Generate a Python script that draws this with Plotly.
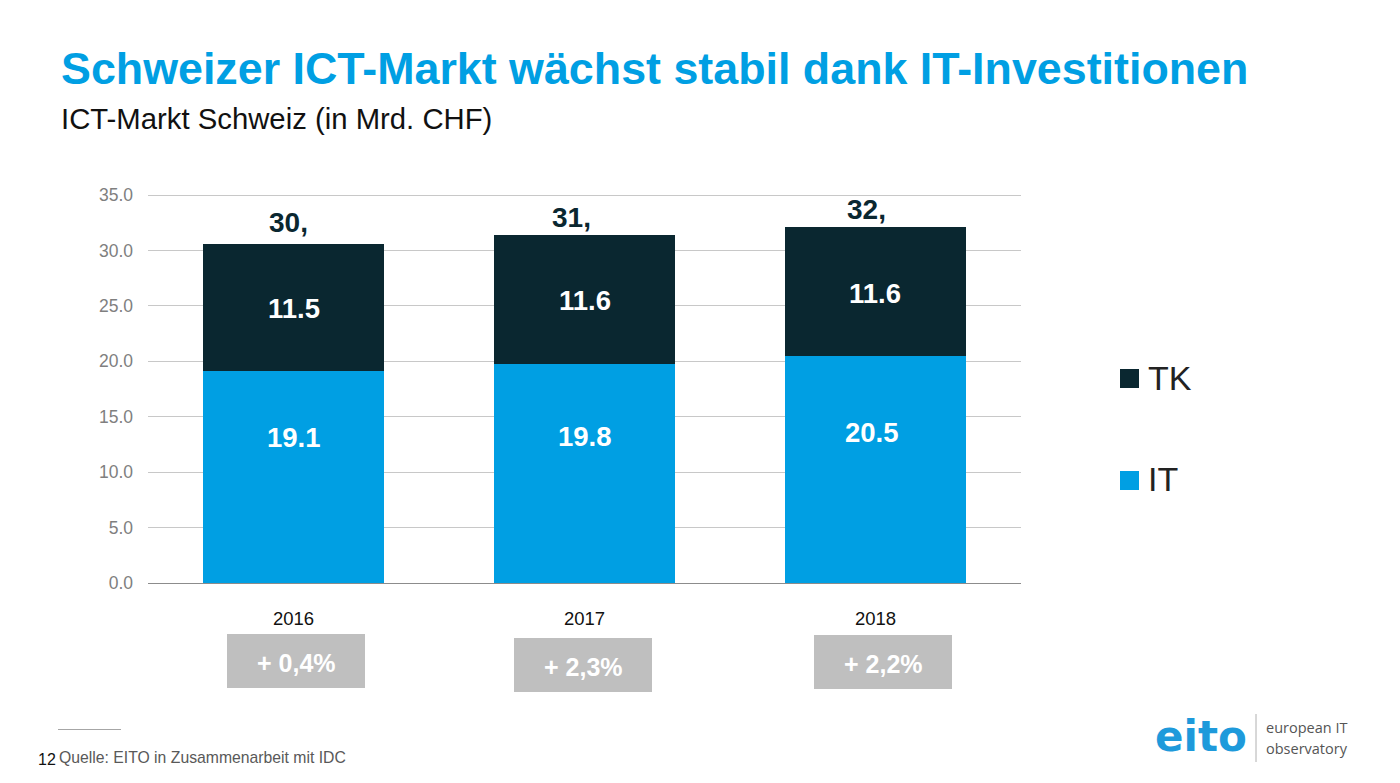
import plotly.graph_objects as go

PAGE_W, PAGE_H = 1400, 783
PAGE_MARGIN = 8
L, R, T, B = 148, 1021, 193, 583

years = ["2016", "2017", "2018"]
it_values = [19.1, 19.8, 20.5]
tk_values = [11.5, 11.6, 11.6]
it_labels = ["19.1", "19.8", "20.5"]
tk_labels = ["11.5", "11.6", "11.6"]
total_labels = ["30,", "31,", "32,"]
growth_labels = ["+ 0,4%", "+ 2,3%", "+ 2,2%"]
y_ticks = [0, 5, 10, 15, 20, 25, 30, 35]
y_tick_labels = ["0.0", "5.0", "10.0", "15.0", "20.0", "25.0", "30.0", "35.0"]

BLUE = "#009FE3"
DARK = "#0A2730"
FONT = "Liberation Sans"

def px(x):
    return (x - L) / (R - L)
def py(y):
    return (B - y) / (B - T)

fig = go.Figure()
fig.add_bar(x=years, y=it_values, name="IT", marker=dict(color=BLUE, line_width=0))
fig.add_bar(x=years, y=tk_values, name="TK", marker=dict(color=DARK, line_width=0))

ann = []
shapes = []

def text(s, x, y, size, color, bold=False, anchor="center", family=FONT):
    ann.append(dict(text=f"<b>{s}</b>" if bold else s, x=px(x), y=py(y), xref="paper", yref="paper",
                    xanchor=anchor, yanchor="middle", showarrow=False, borderpad=0, borderwidth=0,
                    font=dict(family=family, size=size, color=color)))

def rect(x0, y0, x1, y1, color):
    shapes.append(dict(type="rect", xref="paper", yref="paper", x0=px(x0), x1=px(x1), y0=py(y0), y1=py(y1),
                       fillcolor=color, line_width=0, layer="above"))

def line(x0, y0, x1, y1, color, w=1):
    shapes.append(dict(type="line", xref="paper", yref="paper", x0=px(x0), x1=px(x1), y0=py(y0), y1=py(y1),
                       line=dict(color=color, width=w)))

# titles
text("Schweizer ICT-Markt wächst stabil dank IT-Investitionen", 61, 68, 44.8, BLUE, True, "left")
text("ICT-Markt Schweiz (in Mrd. CHF)", 61, 118, 29.3, "#111111", False, "left")

# labels on bars
for s, x, y in zip(total_labels, [288.5, 571.5, 866.5], [222.5, 217.5, 209.5]):
    text(s, x, y, 28, DARK, True)
for s, x, y in zip(tk_labels, [294, 585, 875], [308, 300, 293]):
    text(s, x, y, 27.5, "white", True)
for s, x, y in zip(it_labels, [293.5, 585, 871.5], [437, 436, 432]):
    text(s, x, y, 27.5, "white", True)

# growth boxes
for s, (x0, y0) in zip(growth_labels, [(227, 634), (514, 638), (814, 635)]):
    rect(x0, y0, x0 + 138, y0 + 54, "#BFBFBF")
    text(s, x0 + 69.5, y0 + 29, 25, "white", True)

# legend
rect(1120, 369, 1139, 388, DARK)
text("TK", 1148, 378, 34, "#222222", False, "left")
rect(1120, 471, 1139, 490, BLUE)
text("IT", 1148, 479, 34, "#222222", False, "left")

# footer
line(58, 729.5, 121, 729.5, "#A6A6A6")
text("12", 38, 759, 16, "#111111", False, "left")
text("Quelle: EITO in Zusammenarbeit mit IDC", 59, 757, 15.75, "#595959", False, "left")

# logo
text("eito", 1155, 736, 42, "#1E9ADB", True, "left", "DejaVu Sans")
line(1256, 714, 1256, 762, "#B0B0B0")
text("european IT", 1266, 727, 14.5, "#555555", False, "left", "Open Sans")
text("observatory", 1266, 748, 14.5, "#555555", False, "left", "Open Sans")

fig.update_layout(
    width=PAGE_W - PAGE_MARGIN, height=PAGE_H - PAGE_MARGIN, autosize=False,
    margin=dict(l=L - PAGE_MARGIN, r=PAGE_W - R, t=T - PAGE_MARGIN, b=PAGE_H - B, pad=0),
    paper_bgcolor="white", plot_bgcolor="white",
    barmode="stack", bargap=0.375, showlegend=False,
    annotations=ann, shapes=shapes,
    font=dict(family=FONT),
    xaxis=dict(type="category", showgrid=False, showline=True, linecolor="#8C8C8C", linewidth=1,
               ticks="", tickfont=dict(family=FONT, size=18.5, color="#111111"), ticklabelstandoff=19),
    yaxis=dict(range=[0, 35.18], tickvals=y_ticks, ticktext=y_tick_labels, showgrid=True, gridcolor="#C8C8C8",
               gridwidth=1, zeroline=False, showline=False, ticks="",
               tickfont=dict(family=FONT, size=17.5, color="#7F7F7F"), ticklabelstandoff=14),
)

fig.write_html("out.html", config=dict(displayModeBar=False))
